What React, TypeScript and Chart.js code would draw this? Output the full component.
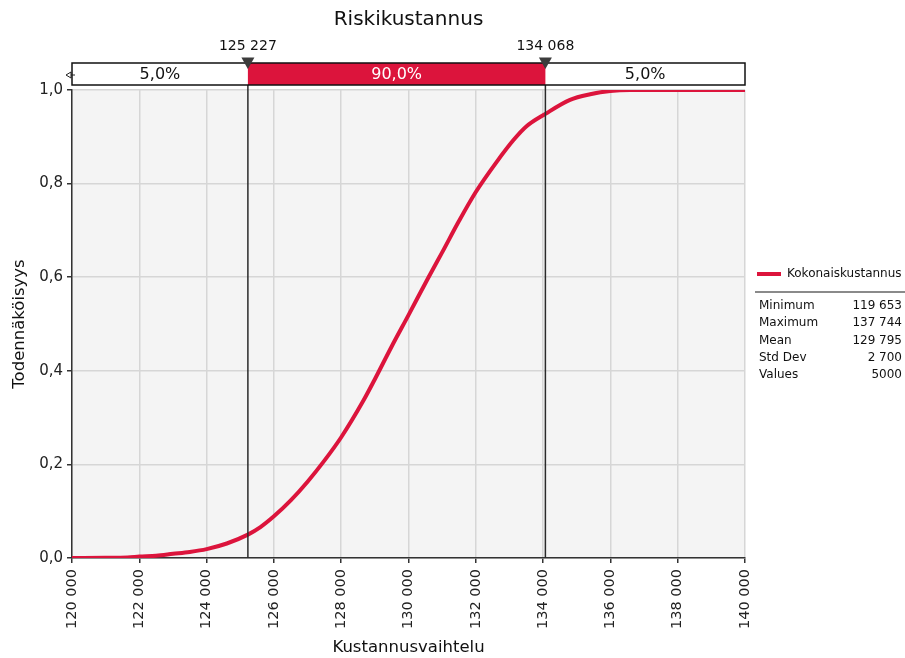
import React, { useEffect, useRef } from "react";
import { Chart, registerables } from "chart.js";

Chart.register(...registerables);

const chartTitle = "Riskikustannus";
const xAxisTitle = "Kustannusvaihtelu";
const yAxisTitle = "Todennäköisyys";
const seriesName = "Kokonaiskustannus";

const costValues = [
  120000, 121000, 121650, 122000, 122500, 123000, 123500, 124000, 124600, 125227,
  125600, 126000, 126500, 127000, 127500, 128000, 128665, 129000, 129500, 130000,
  130596, 131000, 131500, 132000, 132627, 133120, 133500, 134068, 134800,
  135400, 136000, 136580, 140000,
];
const probValues = [
  0, 0.0005, 0.001, 0.003, 0.005, 0.009, 0.013, 0.019, 0.031, 0.05,
  0.066, 0.089, 0.123, 0.163, 0.208, 0.258, 0.337, 0.382, 0.452, 0.519,
  0.6, 0.653, 0.72, 0.782, 0.847, 0.893, 0.922, 0.949, 0.979,
  0.991, 0.998, 1.0, 1.0,
];

const markerValues = [125227, 134068];
const markerLabels = ["125 227", "134 068"];
const segmentLabels = ["5,0%", "90,0%", "5,0%"];

const statLabels = ["Minimum", "Maximum", "Mean", "Std Dev", "Values"];
const statValues = ["119 653", "137 744", "129 795", "2 700", "5000"];

const xMin = 120000;
const xMax = 140000;
const xStep = 2000;

const RED = "#DC143C";
const FONT = '"DejaVu Sans", "Noto Sans", sans-serif';

const fmtThousands = (v: number) =>
  String(Math.round(v)).replace(/\B(?=(\d{3})+(?!\d))/g, " ");

const overlayPlugin = {
  id: "overlay",
  beforeDraw(chart: any) {
    const { ctx, chartArea: a } = chart;
    ctx.save();
    ctx.fillStyle = "#ffffff";
    ctx.fillRect(0, 0, chart.width, chart.height);
    ctx.fillStyle = "#f4f4f4";
    ctx.fillRect(a.left, a.top, a.right - a.left, a.bottom - a.top);
    ctx.restore();
  },
  afterDatasetsDraw(chart: any) {
    const { ctx, chartArea: a, scales } = chart;
    ctx.save();
    ctx.strokeStyle = "#2a2a2a";
    ctx.lineWidth = 1.5;
    markerValues.forEach((v) => {
      const x = scales.x.getPixelForValue(v);
      ctx.beginPath();
      ctx.moveTo(x, 68);
      ctx.lineTo(x, a.bottom);
      ctx.stroke();
    });
    ctx.restore();
  },
  afterDraw(chart: any) {
    const { ctx, chartArea: a, scales } = chart;
    ctx.save();
    // title
    ctx.fillStyle = "#111";
    ctx.font = `20px ${FONT}`;
    ctx.textAlign = "center";
    ctx.textBaseline = "middle";
    ctx.fillText(chartTitle, (a.left + a.right) / 2, 20);

    // top bar
    const barTop = 63;
    const barBot = 85;
    const mx = markerValues.map((v) => scales.x.getPixelForValue(v));
    const edges = [a.left, mx[0], mx[1], a.right];
    ctx.fillStyle = "#ffffff";
    ctx.fillRect(a.left, barTop, a.right - a.left, barBot - barTop);
    ctx.fillStyle = RED;
    ctx.fillRect(mx[0], barTop, mx[1] - mx[0], barBot - barTop);
    ctx.strokeStyle = "#111";
    ctx.lineWidth = 1.5;
    ctx.strokeRect(a.left, barTop, a.right - a.left, barBot - barTop);

    ctx.font = `16px ${FONT}`;
    ctx.textBaseline = "middle";
    segmentLabels.forEach((t, i) => {
      ctx.fillStyle = i === 1 ? "#ffffff" : "#111";
      ctx.fillText(t, (edges[i] + edges[i + 1]) / 2, (barTop + barBot) / 2 + 1);
    });

    // small left arrow
    ctx.strokeStyle = "#222";
    ctx.lineWidth = 1;
    ctx.fillStyle = "#fff";
    ctx.beginPath();
    ctx.moveTo(66, 75);
    ctx.lineTo(71, 72);
    ctx.lineTo(71, 78);
    ctx.closePath();
    ctx.fill();
    ctx.stroke();
    ctx.beginPath();
    ctx.moveTo(71, 75);
    ctx.lineTo(75, 75);
    ctx.stroke();

    // triangles and marker labels
    mx.forEach((x, i) => {
      ctx.fillStyle = "#3c3c3c";
      ctx.beginPath();
      ctx.moveTo(x - 6.5, 57.5);
      ctx.lineTo(x + 6.5, 57.5);
      ctx.lineTo(x, 69);
      ctx.closePath();
      ctx.fill();
      ctx.fillStyle = "#111";
      ctx.font = `14px ${FONT}`;
      ctx.textAlign = "center";
      ctx.textBaseline = "middle";
      ctx.fillText(markerLabels[i], x, 46);
    });

    // legend
    ctx.strokeStyle = RED;
    ctx.lineWidth = 4;
    ctx.beginPath();
    ctx.moveTo(757, 274);
    ctx.lineTo(781, 274);
    ctx.stroke();
    ctx.fillStyle = "#111";
    ctx.font = `12px ${FONT}`;
    ctx.textAlign = "left";
    ctx.textBaseline = "middle";
    ctx.fillText(seriesName, 787, 274);

    ctx.strokeStyle = "#8a8a8a";
    ctx.lineWidth = 2;
    ctx.beginPath();
    ctx.moveTo(755, 292);
    ctx.lineTo(905, 292);
    ctx.stroke();

    statLabels.forEach((t, i) => {
      const y = 306 + i * 17.2;
      ctx.textAlign = "left";
      ctx.fillText(t, 759, y);
      ctx.textAlign = "right";
      ctx.fillText(statValues[i], 902, y);
    });
    ctx.restore();
  },
};

export default function App() {
  const ref = useRef<HTMLCanvasElement | null>(null);
  useEffect(() => {
    document.body.style.margin = "0";
    const canvas = ref.current;
    if (!canvas) return;
    const data = costValues.map((x, i) => ({ x, y: probValues[i] }));
    const chart = new Chart(canvas, {
      type: "scatter",
      data: {
        datasets: [
          {
            label: seriesName,
            data,
            showLine: true,
            borderColor: RED,
            backgroundColor: RED,
            borderWidth: 4,
            pointRadius: 0,
            cubicInterpolationMode: "monotone",
          } as any,
        ],
      },
      options: {
        animation: false,
        responsive: false,
        events: [],
        layout: { padding: { left: 0, right: 160, top: 90, bottom: 0 } },
        plugins: {
          legend: { display: false },
          tooltip: { enabled: false },
          title: { display: false },
        },
        scales: {
          x: {
            type: "linear",
            min: xMin,
            max: xMax,
            afterFit: (s: any) => {
              s.height = 100;
            },
            afterBuildTicks: (s: any) => {
              const t = [];
              for (let v = xMin; v <= xMax; v += xStep) t.push({ value: v });
              s.ticks = t;
            },
            ticks: {
              minRotation: 90,
              maxRotation: 90,
              autoSkip: false,
              padding: 6,
              color: "#222",
              font: { family: FONT, size: 14.5 },
              callback: (v: any) => fmtThousands(Number(v)),
            },
            grid: {
              color: "#d6d6d6",
              lineWidth: 1.5,
              tickLength: 5,
              tickColor: "#333",
            },
            border: { color: "#333", width: 1.5 },
            title: {
              display: true,
              text: xAxisTitle,
              color: "#111",
              font: { family: FONT, size: 16.5 },
              padding: { top: 0, bottom: 0 },
            },
          },
          y: {
            type: "linear",
            min: 0,
            max: 1,
            afterFit: (s: any) => {
              s.width = 72;
            },
            ticks: {
              stepSize: 0.2,
              padding: 4,
              color: "#222",
              font: { family: FONT, size: 15 },
              callback: (v: any) => Number(v).toFixed(1).replace(".", ","),
            },
            grid: {
              color: "#d6d6d6",
              lineWidth: 1.5,
              tickLength: 5,
              tickColor: "#333",
            },
            border: { color: "#333", width: 1.5 },
            title: {
              display: true,
              text: yAxisTitle,
              color: "#111",
              font: { family: FONT, size: 16.5 },
              padding: { top: 10, bottom: 0 },
            },
          },
        },
      },
      plugins: [overlayPlugin],
    });
    return () => chart.destroy();
  }, []);
  return (
    <div style={{ width: 905, height: 658 }}>
      <canvas ref={ref} width={905} height={658} style={{ display: "block" }} />
    </div>
  );
}
